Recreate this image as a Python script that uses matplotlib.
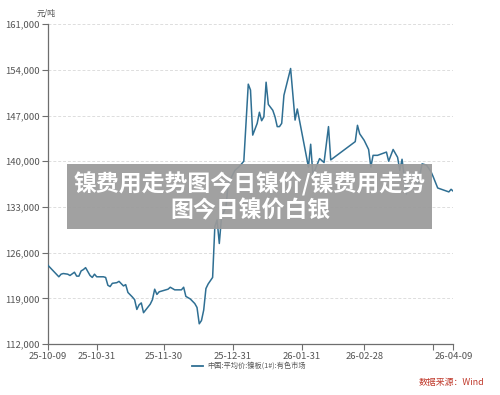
import matplotlib

matplotlib.use("Agg")
import matplotlib.dates as mdates
import matplotlib.pyplot as plt
import pandas as pd
from matplotlib.patches import Rectangle
from matplotlib.ticker import FuncFormatter, MultipleLocator

plt.rcParams["font.family"] = ["Noto Sans CJK SC", "DejaVu Sans"]

# Nickel plate (1#) average price, yuan/ton
dates = [
    "2025-10-09", "2025-10-14", "2025-10-15", "2025-10-16", "2025-10-18", "2025-10-19",
    "2025-10-21", "2025-10-22", "2025-10-23", "2025-10-24", "2025-10-25", "2025-10-26",
    "2025-10-28", "2025-10-29", "2025-10-30", "2025-10-31", "2025-11-03", "2025-11-04",
    "2025-11-05", "2025-11-06", "2025-11-07", "2025-11-09", "2025-11-10", "2025-11-12",
    "2025-11-13", "2025-11-14", "2025-11-16", "2025-11-17", "2025-11-18", "2025-11-19",
    "2025-11-20", "2025-11-21", "2025-11-24", "2025-11-25", "2025-11-26", "2025-11-27",
    "2025-11-28", "2025-12-01", "2025-12-02", "2025-12-03", "2025-12-05", "2025-12-08",
    "2025-12-09", "2025-12-10", "2025-12-12", "2025-12-14", "2025-12-15", "2025-12-16",
    "2025-12-17", "2025-12-18", "2025-12-19", "2025-12-20", "2025-12-22", "2025-12-23",
    "2025-12-24", "2025-12-25", "2025-12-26", "2025-12-28", "2025-12-29", "2026-01-01",
    "2026-01-03", "2026-01-05", "2026-01-07", "2026-01-08", "2026-01-09", "2026-01-11",
    "2026-01-12", "2026-01-13", "2026-01-14", "2026-01-15", "2026-01-16", "2026-01-18",
    "2026-01-19", "2026-01-20", "2026-01-21", "2026-01-22", "2026-01-23", "2026-01-26",
    "2026-01-28", "2026-01-29", "2026-02-03", "2026-02-04", "2026-02-05", "2026-02-08",
    "2026-02-10", "2026-02-12", "2026-02-13", "2026-02-24", "2026-02-25", "2026-02-26",
    "2026-02-28", "2026-03-02", "2026-03-03", "2026-03-04", "2026-03-06", "2026-03-10",
    "2026-03-11", "2026-03-13", "2026-03-15", "2026-03-16", "2026-03-17", "2026-03-19",
    "2026-03-20", "2026-03-23", "2026-03-24", "2026-03-26", "2026-03-28", "2026-03-30",
    "2026-03-31", "2026-04-02", "2026-04-07", "2026-04-08", "2026-04-09",
]
prices = [
    124100, 122300, 122700, 122800, 122700, 122500,
    123000, 122400, 122400, 123200, 123400, 123700,
    122500, 122200, 122700, 122300, 122300, 122200,
    121000, 120800, 121300, 121400, 121600, 120900,
    121100, 119900, 119200, 118800, 117300, 118000,
    118300, 116800, 118100, 118800, 120400, 119600,
    120000, 120300, 120400, 120700, 120300, 120300,
    120700, 119300, 118900, 118200, 117600, 115100,
    115600, 117200, 120500, 121200, 122200, 130000,
    131000, 127400, 131500, 133000, 136600, 138600,
    139200, 140000, 151800, 150900, 144000, 145800,
    147500, 146200, 146800, 152100, 148700, 147800,
    146800, 145300, 145300, 145800, 150100, 154200,
    146300, 148000, 139100, 142600, 137900, 140400,
    139800, 145300, 140200, 143000, 145500, 144200,
    143200, 141800, 139100, 140900, 140900, 141400,
    140000, 141800, 140600, 138600, 140300, 135000,
    137700, 138200, 136200, 139600, 139400, 138400,
    137600, 135900, 135300, 135700, 135400,
]

tick_dates = ["2025-10-09", "2025-10-31", "2025-11-30", "2025-12-31",
              "2026-01-31", "2026-02-28", "2026-03-31", "2026-04-09"]
tick_labels = ["25-10-09", "25-10-31", "25-11-30", "25-12-31",
               "26-01-31", "26-02-28", "", "26-04-09"]

series_name = "中国:平均价:镍板(1#):有色市场"
banner_text = "镍费用走势图今日镍价/镍费用走势\n图今日镍价白银"

x = pd.to_datetime(dates)
line_color = "#2f6f93"
axis_color = "#6e6e6e"
text_color = "#555555"

fig = plt.figure(figsize=(5, 3.95), dpi=100)
ax = fig.add_axes([0.0954, 0.129, 0.8112, 0.81])

ax.plot(x, prices, color=line_color, linewidth=1.1, zorder=3)

ax.set_xlim(pd.Timestamp("2025-10-09"), pd.Timestamp("2026-04-09"))
ax.set_ylim(112000, 161000)
ax.yaxis.set_major_locator(MultipleLocator(7000))
ax.yaxis.set_major_formatter(FuncFormatter(lambda v, p: f"{int(v):,}"))
ax.set_xticks(pd.to_datetime(tick_dates))
ax.set_xticklabels(tick_labels)

ax.grid(axis="y", color="#dddddd", linestyle=(0, (3, 2)), linewidth=0.7)
ax.set_axisbelow(True)
for side in ["top", "right"]:
    ax.spines[side].set_visible(False)
for side in ["left", "bottom"]:
    ax.spines[side].set_color(axis_color)
    ax.spines[side].set_linewidth(0.9)
ax.tick_params(axis="both", colors=axis_color, labelcolor=text_color,
               labelsize=6.8, length=4, width=0.8, pad=1.5)

fig.text(37 / 500, 1 - 13 / 395, "元/吨", fontsize=5.8, color=text_color,
         ha="left", va="center")

# legend
fig.add_artist(plt.Line2D([192 / 500, 203 / 500], [1 - 366 / 395] * 2,
                          color=line_color, linewidth=1.3))
fig.text(207 / 500, 1 - 366 / 395, series_name, fontsize=5.2, color=text_color,
         ha="left", va="center")

fig.text(484 / 500, 1 - 382 / 395, "数据来源：Wind", fontsize=6.4, color="#c0392b",
         ha="right", va="center")

# watermark banner
fig.add_artist(Rectangle((67 / 500, 1 - 229 / 395), 365 / 500, 65 / 395,
                         transform=fig.transFigure, facecolor="#9a9a9a",
                         alpha=0.93, edgecolor="none", zorder=10))
fig.text(250 / 500, 1 - 197 / 395, banner_text, fontsize=16.5, color="white",
         fontweight="bold", ha="center", va="center", linespacing=1.15, zorder=11)

fig.savefig("out.png", dpi=100)
